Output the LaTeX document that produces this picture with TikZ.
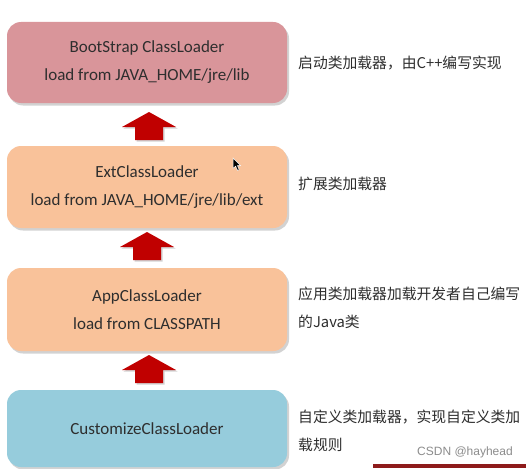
\documentclass[tikz,border=0pt]{standalone}
\usepackage{fontspec}
\setmainfont{Carlito}
\newfontfamily\cjk{Noto Sans CJK SC}
\newfontfamily\wm{Liberation Sans}
\usetikzlibrary{shadows}
\definecolor{bootc}{HTML}{D9959A}
\definecolor{extc}{HTML}{F9C29A}
\definecolor{custc}{HTML}{96CCDC}
\definecolor{arrc}{HTML}{C00000}
\definecolor{txtc}{HTML}{2E2E2E}
\definecolor{barc}{HTML}{8E1B1B}
\tikzset{
  loaderbox/.style={rounded corners=14pt, minimum width=280pt, inner sep=0pt,
    align=center, text=txtc, font=\fontsize{17}{28}\selectfont,
    drop shadow={shadow xshift=2pt, shadow yshift=-2.5pt, opacity=0.35}},
  note/.style={anchor=west, align=left, inner sep=0pt, text=txtc,
    font=\cjk\fontsize{14.8}{28}\selectfont},
  uparr/.style={fill=arrc, drop shadow={shadow xshift=1.5pt, shadow yshift=-1.5pt, opacity=0.35}}
}
\newcommand{\upblock}[1]{%
  \fill[uparr] (#1) -- ++(27,15) -- ++(-13,0) -- ++(0,13) -- ++(-28,0) -- ++(0,-13) -- ++(-13,0) -- cycle;}
\begin{document}
\begin{tikzpicture}[x=1pt,y=-1pt]
\useasboundingbox[fill=white] (0,0) rectangle (526,468);
\node[loaderbox, fill=bootc, minimum height=81pt] (boot) at (147,62.5)
  {BootStrap ClassLoader\\load from JAVA\_HOME/jre/lib};
\node[loaderbox, fill=extc, minimum height=82pt] (ext) at (147,187)
  {ExtClassLoader\\load from JAVA\_HOME/jre/lib/ext};
\node[loaderbox, fill=extc, minimum height=83pt] (app) at (147,309.5)
  {AppClassLoader\\load from CLASSPATH};
\node[loaderbox, fill=custc, minimum height=77pt] (cust) at (147,428.5)
  {CustomizeClassLoader};
\coordinate (a1) at (149,112);
\coordinate (a2) at (147,232);
\coordinate (a3) at (149,355);
\upblock{a1}
\upblock{a2}
\upblock{a3}
\node[note] (n1) at (298,63) {启动类加载器，由C++编写实现};
\node[note] (n2) at (298,184) {扩展类加载器};
\node[note] (n3) at (298,308) {应用类加载器加载开发者自己编写\\的Java类};
\node[note] (n4) at (298,430.5) {自定义类加载器，实现自定义类加\\载规则};
\node[anchor=west, inner sep=0pt, text=black!45, font=\wm\fontsize{12}{14}\selectfont] (wm) at (417,452) {CSDN @hayhead};
\fill[barc] (373,464) rectangle (526,468);
\fill[black, draw=white, line width=0.5pt] (233,158) -- (233,168.5) -- (235.6,166.2) -- (237.6,170.5) -- (239.3,169.7) -- (237.3,165.5) -- (240.5,165.5) -- cycle;
\end{tikzpicture}
\end{document}
